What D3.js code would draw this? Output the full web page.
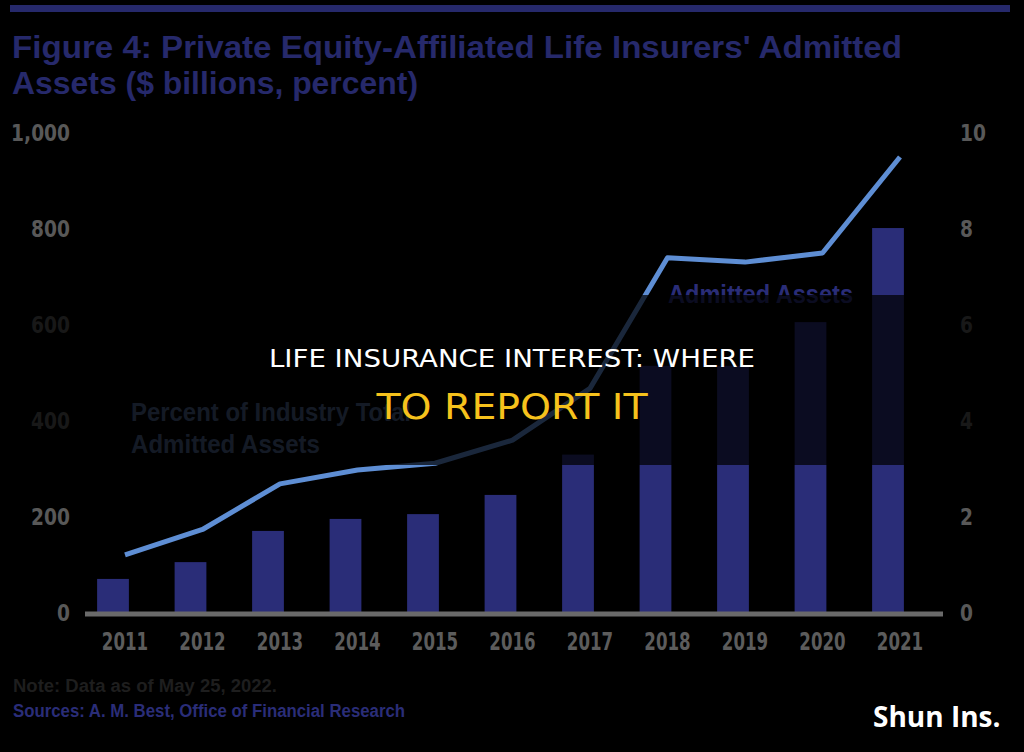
<!DOCTYPE html>
<html>
<head>
<meta charset="utf-8">
<script src="https://cdn.jsdelivr.net/npm/d3@7"></script>
<style>
  html, body { margin: 0; padding: 0; background: #000; }
  svg { display: block; }
</style>
</head>
<body>
<div id="chart"></div>
<script>
// Data
const years = ["2011", "2012", "2013", "2014", "2015", "2016", "2017", "2018", "2019", "2020", "2021"];
const assets = [71, 106, 171, 196, 206, 246, 330, 515, 515, 606, 802];   // $ billions, left axis
const percent = [1.21, 1.74, 2.69, 2.98, 3.12, 3.6, 4.68, 7.4, 7.31, 7.5, 9.5]; // right axis
const leftTicks = [0, 200, 400, 600, 800, 1000];
const rightTicks = [0, 2, 4, 6, 8, 10];

const width = 1024, height = 752;
const navy = "#2a2d78";
const lineBlue = "#5e8ed4";
const grey = "#585858";
const narrow = "'Liberation Sans Narrow', 'DejaVu Sans Condensed', sans-serif";

const svg = d3.select("#chart")
    .append("svg")
    .attr("width", width)
    .attr("height", height)
    .style("background", "#000");

// scales
const x = d3.scaleBand()
    .domain(years)
    .range([74.25, 926.75])
    .paddingInner(0.59)
    .paddingOuter(0.295);

const shift = 12; // line + year labels sit a bit right of the bars

const yLeft = d3.scaleLinear().domain([0, 1000]).range([613, 133]);
const yRight = d3.scaleLinear().domain([0, 10]).range([613, 133]);

// top rule
svg.append("rect")
    .attr("x", 10).attr("y", 5)
    .attr("width", 1000).attr("height", 7)
    .attr("fill", "#26296b");

// title
svg.append("text")
    .attr("x", 12).attr("y", 58)
    .attr("textLength", 890)
    .attr("lengthAdjust", "spacingAndGlyphs")
    .style("font", "bold 32px 'Liberation Sans', Arial, sans-serif")
    .attr("fill", "#26296b")
    .text("Figure 4: Private Equity-Affiliated Life Insurers' Admitted");

svg.append("text")
    .attr("x", 12).attr("y", 94)
    .attr("textLength", 406)
    .attr("lengthAdjust", "spacingAndGlyphs")
    .style("font", "bold 32px 'Liberation Sans', Arial, sans-serif")
    .attr("fill", "#26296b")
    .text("Assets ($ billions, percent)");

// left axis labels
svg.append("g")
    .attr("transform", "translate(70,0)")
    .call(d3.axisLeft(yLeft).tickValues(leftTicks).tickSize(0).tickPadding(0).tickFormat(d3.format(",")))
    .call(g => g.select(".domain").remove())
    .call(g => g.selectAll("text")
        .attr("fill", grey)
        .attr("transform", "scale(0.9,1)")
        .style("font", "bold 23px " + narrow));

// right axis labels
svg.append("g")
    .attr("transform", "translate(960,0)")
    .call(d3.axisRight(yRight).tickValues(rightTicks).tickSize(0).tickPadding(0))
    .call(g => g.select(".domain").remove())
    .call(g => g.selectAll("text")
        .attr("fill", grey)
        .attr("transform", "scale(0.9,1)")
        .style("font", "bold 23px " + narrow));

// bars
svg.selectAll(".bar")
    .data(years.map((y, i) => ({ year: y, value: assets[i] })))
    .enter()
    .append("rect")
    .attr("class", "bar")
    .attr("x", d => x(d.year))
    .attr("y", d => yLeft(d.value))
    .attr("width", x.bandwidth())
    .attr("height", d => yLeft(0) - yLeft(d.value))
    .attr("fill", navy);

// baseline
svg.append("line")
    .attr("x1", 85).attr("x2", 943)
    .attr("y1", 614).attr("y2", 614)
    .attr("stroke", "#6a6a6a")
    .attr("stroke-width", 5);

// year labels
svg.append("g")
    .attr("transform", `translate(${shift},650)`)
    .call(d3.axisBottom(x).tickSize(0).tickPadding(0))
    .call(g => g.select(".domain").remove())
    .call(g => g.selectAll("text")
        .attr("dy", 0)
        .attr("fill", "#5c5c5c")
        .attr("transform", "scale(0.74,1)")
        .style("font", "bold 25px " + narrow));

// percent line
const line = d3.line()
    .x((d, i) => x(years[i]) + x.bandwidth() / 2 + shift)
    .y(d => yRight(d));

svg.append("path")
    .datum(percent)
    .attr("fill", "none")
    .attr("stroke", lineBlue)
    .attr("stroke-width", 5)
    .attr("stroke-linejoin", "round")
    .attr("d", line);

// series labels
svg.append("text")
    .attr("x", 131).attr("y", 421)
    .attr("textLength", 280)
    .attr("lengthAdjust", "spacingAndGlyphs")
    .style("font", "bold 26px 'Liberation Sans', Arial, sans-serif")
    .attr("fill", "#4a5f86")
    .text("Percent of Industry Total");

svg.append("text")
    .attr("x", 131).attr("y", 453)
    .attr("textLength", 189)
    .attr("lengthAdjust", "spacingAndGlyphs")
    .style("font", "bold 26px 'Liberation Sans', Arial, sans-serif")
    .attr("fill", "#4a5f86")
    .text("Admitted Assets");

svg.append("text")
    .attr("x", 668).attr("y", 303)
    .attr("textLength", 185)
    .attr("lengthAdjust", "spacingAndGlyphs")
    .style("font", "bold 26px 'Liberation Sans', Arial, sans-serif")
    .attr("fill", navy)
    .text("Admitted Assets");

// footer
svg.append("text")
    .attr("x", 13).attr("y", 692)
    .attr("textLength", 264)
    .attr("lengthAdjust", "spacingAndGlyphs")
    .style("font", "bold 18px 'Liberation Sans', Arial, sans-serif")
    .attr("fill", "#1e1e1e")
    .text("Note:  Data as of May 25, 2022.");

svg.append("text")
    .attr("x", 13).attr("y", 717)
    .attr("textLength", 392)
    .attr("lengthAdjust", "spacingAndGlyphs")
    .style("font", "bold 18px 'Liberation Sans', Arial, sans-serif")
    .attr("fill", navy)
    .text("Sources:  A. M. Best, Office of Financial Research");

// dark banner across the middle
svg.append("rect")
    .attr("x", 0).attr("y", 295)
    .attr("width", width).attr("height", 170)
    .attr("fill", "#000")
    .attr("opacity", 0.72);

svg.append("text")
    .attr("x", 512).attr("y", 367)
    .attr("text-anchor", "middle")
    .attr("textLength", 486)
    .attr("lengthAdjust", "spacingAndGlyphs")
    .style("font", "25px " + narrow)
    .attr("fill", "#ffffff")
    .text("LIFE INSURANCE INTEREST: WHERE");

svg.append("text")
    .attr("x", 512).attr("y", 419)
    .attr("text-anchor", "middle")
    .attr("textLength", 271)
    .attr("lengthAdjust", "spacingAndGlyphs")
    .style("font", "36px " + narrow)
    .attr("fill", "#f6c21c")
    .text("TO REPORT IT");

// watermark
svg.append("text")
    .attr("x", 873).attr("y", 727)
    .style("font", "bold 28px 'Open Sans', sans-serif")
    .attr("fill", "#ffffff")
    .text("Shun Ins.");
</script>
</body>
</html>
